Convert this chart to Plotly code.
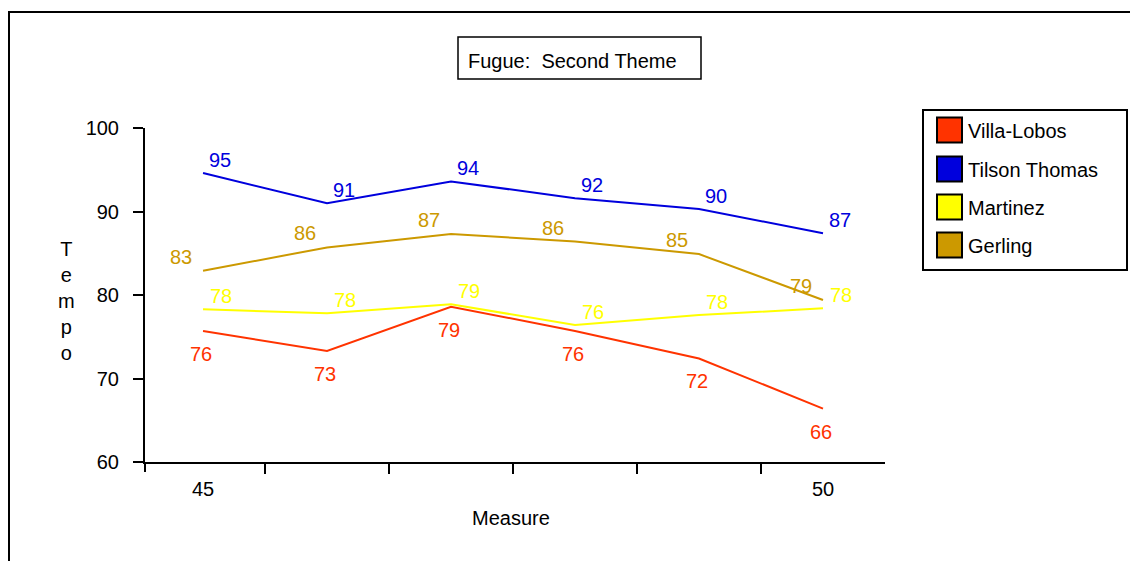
import plotly.graph_objects as go

# ---- data ----
measures = [45, 46, 47, 48, 49, 50]
tick_labels = ["45", "", "", "", "", "50"]
villa_lobos = [75.7, 73.3, 78.6, 75.7, 72.4, 66.4]
tilson_thomas = [94.6, 91.0, 93.6, 91.6, 90.3, 87.4]
martinez = [78.3, 77.8, 78.9, 76.4, 77.6, 78.4]
gerling = [82.9, 85.7, 87.3, 86.4, 84.9, 79.4]

series_names = ["Villa-Lobos", "Tilson Thomas", "Martinez", "Gerling"]
series_values = [villa_lobos, tilson_thomas, martinez, gerling]
series_colors = ["#FF3300", "#0000DD", "#FFFF00", "#CC9900"]
# pixel offsets of the value labels from their points (dx right, dy up)
label_dx = [-2, 17, 18, -22]
label_dy = [-23, 13, 13.5, 14]

title_text = "Fugue:\u00a0 Second Theme"
x_title = "Measure"
y_title = "Tempo"

FONT = "Liberation Sans, Arial, sans-serif"
FS = 20

PAGE_OFF = 8                       # default body margin of the html page
W, H = 1138 - PAGE_OFF, 561 - PAGE_OFF
# plot area in page pixels
PL, PR, PT, PB = 145, 885, 128, 462


def px(x):
    return (x - PL) / (PR - PL)


def py(y):
    return (PB - y) / (PB - PT)


fig = go.Figure()
shapes = []
annotations = []

for name, vals, col, dx, dy in zip(series_names, series_values, series_colors,
                                    label_dx, label_dy):
    fig.add_trace(go.Scatter(
        x=measures, y=vals, name=name, mode="lines",
        line=dict(color=col, width=2),
        showlegend=False, hoverinfo="x+y+name",
    ))
    for m, v in zip(measures, vals):
        annotations.append(dict(x=m, y=v, xref="x", yref="y", text=f"{v:.0f}",
                                showarrow=False, xanchor="center", yanchor="middle",
                                xshift=dx, yshift=dy,
                                font=dict(size=FS, family=FONT, color=col)))

# outer frame (only top and left edges are visible)
shapes.append(dict(type="rect", xref="paper", yref="paper",
                   x0=px(PAGE_OFF + 1), x1=px(1200), y0=py(12), y1=py(620),
                   line=dict(color="black", width=2), layer="below"))

# tick at the origin of the x axis
shapes.append(dict(type="line", xref="paper", yref="paper",
                   x0=0, x1=0, y0=0, y1=py(PB + 10),
                   line=dict(color="black", width=2)))

# title box
shapes.append(dict(type="rect", xref="paper", yref="paper",
                   x0=px(458), x1=px(701), y0=py(79), y1=py(37),
                   line=dict(color="black", width=1.5)))
annotations.append(dict(text=title_text, xref="paper", yref="paper",
                        x=px(572.5), y=py(61), showarrow=False,
                        xanchor="center", yanchor="middle",
                        font=dict(size=FS, family=FONT, color="black")))

# y axis title (stacked letters)
annotations.append(dict(text="<br>".join(list(y_title)), xref="paper", yref="paper",
                        x=px(66), y=py(301), showarrow=False,
                        xanchor="center", yanchor="middle",
                        font=dict(size=FS, family=FONT, color="black")))

# x axis title
annotations.append(dict(text=x_title, xref="paper", yref="paper",
                        x=px(511), y=py(518), showarrow=False,
                        xanchor="center", yanchor="middle",
                        font=dict(size=FS, family=FONT, color="black")))

# legend
shapes.append(dict(type="rect", xref="paper", yref="paper",
                   x0=px(923), x1=px(1127), y0=py(270), y1=py(110),
                   line=dict(color="black", width=2)))
leg_y = [130, 169, 207, 245]
for name, col, yc in zip(series_names, series_colors, leg_y):
    shapes.append(dict(type="rect", xref="paper", yref="paper",
                       x0=px(937), x1=px(962), y0=py(yc + 12.5), y1=py(yc - 12.5),
                       fillcolor=col, line=dict(color="black", width=2)))
    annotations.append(dict(text=name, xref="paper", yref="paper",
                            x=px(966), y=py(yc + 1), showarrow=False,
                            xanchor="left", yanchor="middle",
                            font=dict(size=FS, family=FONT, color="black")))

fig.update_layout(
    width=W, height=H,
    margin=dict(l=PL - PAGE_OFF, r=W - (PR - PAGE_OFF), t=PT - PAGE_OFF,
                b=H - (PB - PAGE_OFF), pad=0),
    paper_bgcolor="white", plot_bgcolor="white",
    font=dict(family=FONT, size=FS, color="black"),
    showlegend=False,
    shapes=shapes, annotations=annotations,
    xaxis=dict(
        range=[measures[0] - 0.468, measures[-1] + 0.5],
        tickmode="array", tickvals=measures, ticktext=tick_labels,
        ticks="", showgrid=False, zeroline=False,
        showline=True, linecolor="black", linewidth=2,
        tickfont=dict(size=FS, family=FONT, color="black"),
        ticklabelstandoff=8,
        minor=dict(tickmode="array", tickvals=[m + 0.5 for m in measures[:-1]],
                   ticks="outside", ticklen=10, tickwidth=2, tickcolor="black",
                   showgrid=False),
    ),
    yaxis=dict(
        range=[60, 100], tickmode="linear", tick0=60, dtick=10,
        ticks="outside", ticklen=10, tickwidth=2, tickcolor="black",
        showgrid=False, zeroline=False,
        showline=True, linecolor="black", linewidth=2,
        tickfont=dict(size=FS, family=FONT, color="black"),
        ticklabelstandoff=10,
    ),
)

fig.write_html("out.html")
